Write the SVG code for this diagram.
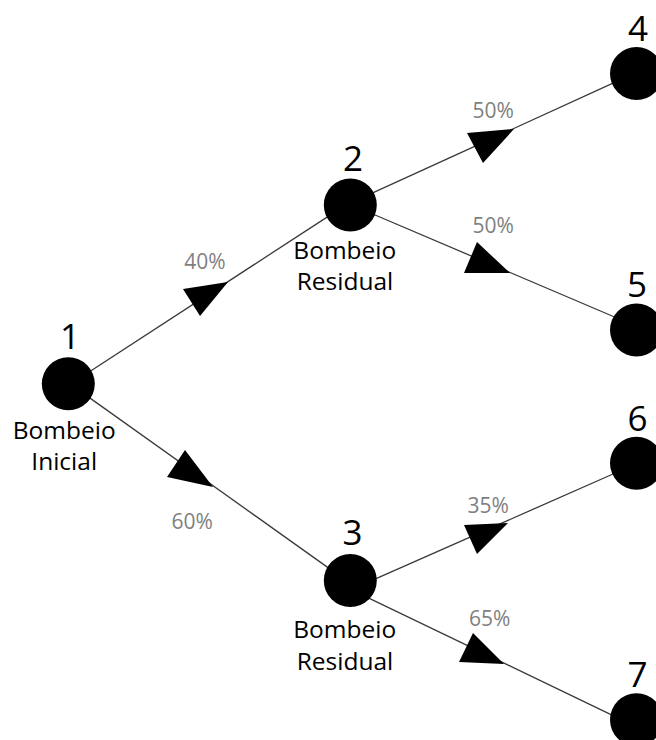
<svg xmlns="http://www.w3.org/2000/svg" width="656" height="740" viewBox="0 0 656 740">
  <style>
    .edge { stroke: #3a3a3a; stroke-width: 1.3; fill: none; }
    .arrow { fill: #000; }
    .dot { fill: #000; }
    .num { font-family: "Open Sans", "DejaVu Sans", sans-serif; font-size: 35px; fill: #000; text-anchor: middle; }
    .cap { font-family: "Open Sans", "DejaVu Sans", sans-serif; font-size: 24.5px; fill: #000; text-anchor: middle; }
    .pct { font-family: "Open Sans", "DejaVu Sans", sans-serif; font-size: 21px; fill: #7f7f7f; text-anchor: middle; }
  </style>
  <rect width="656" height="740" fill="#fff"/>

  <!-- branches with mid-line direction triangles and probabilities -->
  <g id="connectors">
    <line class="edge" x1="89.1" y1="372.0" x2="330.9" y2="214.6"/>
    <polygon class="arrow" points="228,282 183,289 200,316"/>
    <text class="pct" x="205" y="269.3">40%</text>

    <line class="edge" x1="87.6" y1="396.4" x2="330.8" y2="569.6"/>
    <polygon class="arrow" points="213,487 167,477 185,450"/>
    <text class="pct" x="192.2" y="529.3">60%</text>

    <line class="edge" x1="370.5" y1="193.8" x2="615.2" y2="82.2"/>
    <polygon class="arrow" points="514,129 467,133 483,163"/>
    <text class="pct" x="493.3" y="118.3">50%</text>

    <line class="edge" x1="370.4" y1="213.0" x2="616.9" y2="318"/>
    <polygon class="arrow" points="510,273 464,273 477,242"/>
    <text class="pct" x="493.3" y="233.3">50%</text>

    <line class="edge" x1="372.1" y1="580.3" x2="615.3" y2="473"/>
    <polygon class="arrow" points="508,523 464,525 477,554"/>
    <text class="pct" x="488.2" y="512.7">35%</text>

    <line class="edge" x1="366.2" y1="596.8" x2="616.2" y2="717.2"/>
    <polygon class="arrow" points="504,664 459,662 473,633"/>
    <text class="pct" x="489.7" y="626">65%</text>
  </g>

  <g id="node-1">
    <circle class="dot" cx="68.3" cy="383.8" r="26.5"/>
    <text class="num" x="70" y="349.3">1</text>
    <text class="cap" x="64.2" y="439.3">Bombeio</text>
    <text class="cap" x="64.2" y="470">Inicial</text>
  </g>

  <g id="node-2">
    <circle class="dot" cx="350.3" cy="205" r="26.5"/>
    <text class="num" x="353" y="170.7">2</text>
    <text class="cap" x="344.8" y="259.3">Bombeio</text>
    <text class="cap" x="345" y="290">Residual</text>
  </g>

  <g id="node-3">
    <circle class="dot" cx="350.3" cy="580.5" r="26.5"/>
    <text class="num" x="352.5" y="545">3</text>
    <text class="cap" x="344.7" y="638.3">Bombeio</text>
    <text class="cap" x="345" y="670">Residual</text>
  </g>

  <g id="node-4">
    <circle class="dot" cx="636.5" cy="73.5" r="26.5"/>
    <text class="num" x="638" y="40.7">4</text>
  </g>

  <g id="node-5">
    <circle class="dot" cx="636.5" cy="330" r="26.5"/>
    <text class="num" x="637" y="296.7">5</text>
  </g>

  <g id="node-6">
    <circle class="dot" cx="636.5" cy="463.2" r="26.5"/>
    <text class="num" x="637.5" y="430.7">6</text>
  </g>

  <g id="node-7">
    <circle class="dot" cx="636.5" cy="719.8" r="26.5"/>
    <text class="num" x="637.5" y="686.7">7</text>
  </g>
</svg>
